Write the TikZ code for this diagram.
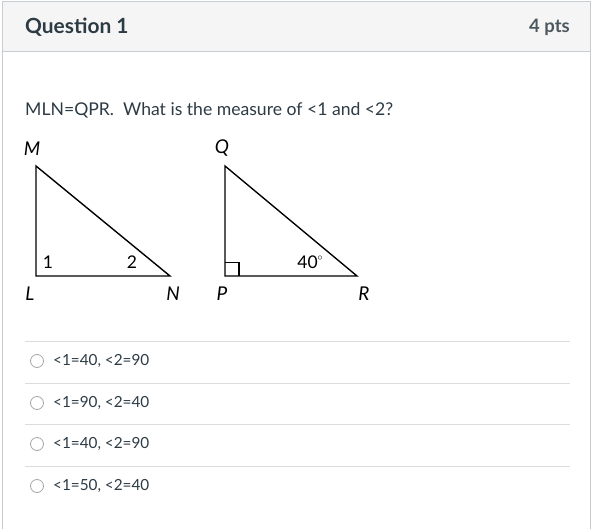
\documentclass[tikz,border=0pt]{standalone}
\usepackage{fontspec}
\setmainfont{Lato}
\definecolor{txt}{HTML}{2D3B45}
\definecolor{bord}{HTML}{C7CDD1}
\definecolor{sep}{HTML}{D9DDE0}
\definecolor{hbg}{HTML}{F5F5F5}
\definecolor{pts}{HTML}{4C5860}
\tikzset{
  tri/.style={draw=black, line width=1.4pt, line join=miter},
  vlab/.style={font=\fontsize{19}{19}\selectfont\itshape, text=black, inner sep=0pt},
  alab/.style={font=\fontsize{17.5}{17}\selectfont, text=black, inner sep=0pt},
  opt/.style={font=\fontsize{15.3}{16}\selectfont, text=txt, anchor=west, inner sep=0pt},
  radio/.style={draw=gray!70, line width=0.8pt},
  sepline/.style={draw=sep, line width=1pt}
}
\begin{document}
\begin{tikzpicture}[x=1pt,y=-1pt]
\useasboundingbox (0,0) rectangle (593,529);
\fill[white] (0,0) rectangle (593,529);
% header
\fill[hbg] (2,2) rectangle (590,52);
\draw[bord, line width=1pt] (2,529) -- (2,2) -- (590,2) -- (590,529);
\draw[bord, line width=1pt] (2,52) -- (590,52);
\node[anchor=west, inner sep=0pt, text=txt, font=\fontsize{20.9}{21}\selectfont\bfseries] (title) at (25,27) {Question 1};
\node[anchor=east, inner sep=0pt, text=pts, font=\fontsize{18.5}{19}\selectfont\bfseries] (pts) at (570,27) {4 pts};
% question
\node[anchor=west, inner sep=0pt, text=txt, font=\fontsize{17.6}{18}\selectfont] (q) at (25,110) {MLN=QPR.\ \ What is the measure of <1 and <2?};
% triangle 1
\coordinate (M) at (36,166);
\coordinate (L) at (36,276);
\coordinate (N) at (170,276);
\draw[tri] (M) -- (L) -- (N) -- cycle;
\node[vlab] (lM) at (32,149) {M};
\node[vlab] (lL) at (30,294) {L};
\node[vlab] (lN) at (173,294) {N};
\node[alab] (a1) at (48,262) {1};
\node[alab] (a2) at (132,262) {2};
% triangle 2
\coordinate (Q) at (225,166);
\coordinate (P) at (225,276);
\coordinate (R) at (357,276);
\draw[tri] (Q) -- (P) -- (R) -- cycle;
\draw[draw=black, line width=1.2pt] (225,262.5) -- (239,262.5) -- (239,276);
\node[vlab] (lQ) at (222,148) {Q};
\node[vlab] (lP) at (222,294) {P};
\node[vlab] (lR) at (364,294) {R};
\node[alab] (a40) at (310,262) {40\raisebox{0.45em}{\fontsize{10}{10}\selectfont$\circ$}};
% options
\foreach \y in {341.5,383,424.5,466} {\draw[sepline] (25,\y) -- (570,\y);}
\foreach \y/\t [count=\i] in {361/{<1=40, <2=90},403/{<1=90, <2=40},444/{<1=40, <2=90},486/{<1=50, <2=40}} {
  \draw[radio] (37,\y) circle (6.5);
  \node[opt] (o\i) at (53,\y) {\t};
}
\end{tikzpicture}
\end{document}
